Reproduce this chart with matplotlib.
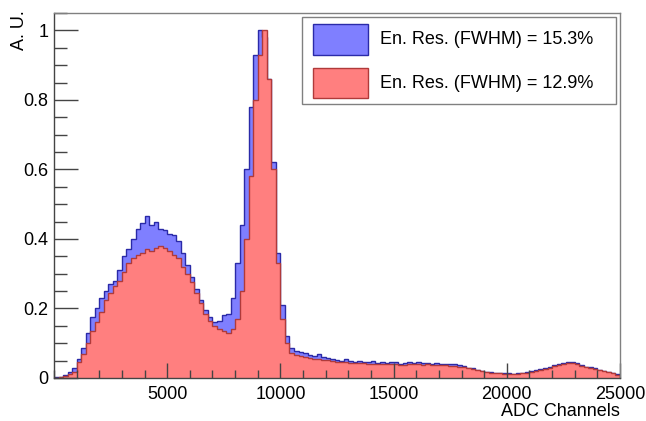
import numpy as np
import matplotlib
matplotlib.use("Agg")
import matplotlib.pyplot as plt
from matplotlib.patches import Rectangle
from matplotlib.ticker import MultipleLocator, FixedLocator

plt.rcParams['font.family'] = ['Liberation Sans', 'DejaVu Sans']

# ---- data -----------------------------------------------------------
bin_width = 200
x_min, x_max = 0, 25000
bin_edges = np.arange(x_min, x_max + bin_width, bin_width)

blue_values = [
    0.002, 0.004, 0.010, 0.018, 0.028, 0.055, 0.085, 0.130, 0.175, 0.200,
    0.230, 0.250, 0.270, 0.280, 0.310, 0.350, 0.370, 0.400, 0.430, 0.445,
    0.465, 0.440, 0.450, 0.430, 0.425, 0.415, 0.410, 0.395, 0.360, 0.325,
    0.290, 0.255, 0.225, 0.195, 0.175, 0.160, 0.165, 0.180, 0.185, 0.230,
    0.330, 0.440, 0.600, 0.780, 0.930, 1.000, 0.980, 0.860, 0.620, 0.360,
    0.210, 0.120, 0.085, 0.078, 0.075, 0.072, 0.066, 0.064, 0.068, 0.060,
    0.058, 0.055, 0.053, 0.050, 0.054, 0.049, 0.047, 0.050, 0.046, 0.045,
    0.048, 0.044, 0.046, 0.043, 0.045, 0.047, 0.040, 0.044, 0.046, 0.043,
    0.045, 0.042, 0.044, 0.041, 0.043, 0.040, 0.041, 0.039, 0.040, 0.036,
    0.034, 0.030, 0.028, 0.024, 0.020, 0.018, 0.016, 0.015, 0.014, 0.013,
    0.014, 0.012, 0.013, 0.015, 0.017, 0.020, 0.023, 0.026, 0.030, 0.033,
    0.037, 0.040, 0.044, 0.046, 0.045, 0.042, 0.037, 0.033, 0.031, 0.028,
    0.024, 0.021, 0.017, 0.014, 0.011,
]

red_values = [
    0.001, 0.003, 0.006, 0.012, 0.016, 0.045, 0.070, 0.100, 0.135, 0.160,
    0.190, 0.225, 0.245, 0.265, 0.280, 0.305, 0.330, 0.345, 0.355, 0.360,
    0.370, 0.365, 0.375, 0.380, 0.375, 0.365, 0.355, 0.345, 0.320, 0.300,
    0.275, 0.245, 0.215, 0.185, 0.165, 0.150, 0.140, 0.135, 0.130, 0.140,
    0.170, 0.250, 0.400, 0.580, 0.800, 0.930, 1.000, 0.860, 0.600, 0.330,
    0.170, 0.100, 0.072, 0.066, 0.063, 0.060, 0.057, 0.055, 0.054, 0.052,
    0.051, 0.049, 0.047, 0.046, 0.045, 0.044, 0.043, 0.043, 0.042, 0.041,
    0.041, 0.040, 0.040, 0.039, 0.039, 0.040, 0.036, 0.038, 0.040, 0.039,
    0.039, 0.038, 0.039, 0.037, 0.038, 0.036, 0.036, 0.035, 0.035, 0.032,
    0.031, 0.028, 0.026, 0.022, 0.019, 0.017, 0.015, 0.014, 0.013, 0.012,
    0.012, 0.011, 0.012, 0.013, 0.015, 0.018, 0.021, 0.024, 0.027, 0.030,
    0.034, 0.037, 0.040, 0.042, 0.042, 0.040, 0.034, 0.031, 0.029, 0.026,
    0.022, 0.019, 0.016, 0.013, 0.010,
]

legend_labels = ["En. Res. (FWHM) = 15.3%", "En. Res. (FWHM) = 12.9%"]
x_label = "ADC Channels"
y_label = "A. U."
x_major_ticks = [5000, 10000, 15000, 20000, 25000]
y_major_ticks = [0, 0.2, 0.4, 0.6, 0.8, 1.0]
y_tick_labels = ["0", "0.2", "0.4", "0.6", "0.8", "1"]

# ---- style ----------------------------------------------------------
W, H = 646, 421
blue_face, blue_edge = "#7f7fff", "#2a2aa8"
red_face, red_edge = "#ff7f7f", "#b03a3a"
frame_col = "#808080"
tick_col = "#444444"
fs = 13

fig = plt.figure(figsize=(W / 100, H / 100), dpi=100)

def fx(px):
    return px / W

def fy(py):
    return 1 - py / H

ax = fig.add_axes([fx(54), fy(378), fx(620) - fx(54), fy(13) - fy(378)])

ax.stairs(blue_values, bin_edges, fill=True, facecolor=blue_face, edgecolor="none")
ax.stairs(blue_values, bin_edges, fill=False, edgecolor=blue_edge, linewidth=1.0)
ax.stairs(red_values, bin_edges, fill=True, facecolor=red_face, edgecolor="none")
ax.stairs(red_values, bin_edges, fill=False, edgecolor=red_edge, linewidth=1.0)

ax.set_xlim(x_min, x_max)
ax.set_ylim(0, 1.05)

ax.xaxis.set_major_locator(FixedLocator(x_major_ticks))
ax.xaxis.set_minor_locator(MultipleLocator(1000))
ax.yaxis.set_major_locator(FixedLocator(y_major_ticks))
ax.yaxis.set_minor_locator(MultipleLocator(0.05))
ax.set_yticklabels(y_tick_labels)
ax.set_xticklabels([f"{t:d}" for t in x_major_ticks])

ax.tick_params(axis="y", which="major", direction="in", length=17.5, width=1,
               color=tick_col, labelsize=fs, pad=4, right=False)
ax.tick_params(axis="y", which="minor", direction="in", length=9, width=1,
               color=tick_col, right=False)
ax.tick_params(axis="x", which="major", direction="in", length=11, width=1,
               color=tick_col, labelsize=fs, pad=6, top=False)
ax.tick_params(axis="x", which="minor", direction="in", length=5.5, width=1,
               color=tick_col, top=False)

for name, sp in ax.spines.items():
    sp.set_linewidth(1.0)
    sp.set_color(tick_col if name in ("left", "bottom") else frame_col)

# axis titles (ROOT style: at the end of the axes)
fig.text(fx(620), fy(411), x_label, ha="right", va="center", fontsize=fs)
fig.text(fx(19), fy(10), y_label, ha="center", va="top", rotation=90, fontsize=fs)

# legend box
fig.patches.append(Rectangle((fx(302), fy(104)), fx(616) - fx(302), fy(17) - fy(104),
                             transform=fig.transFigure, facecolor="white",
                             edgecolor=frame_col, linewidth=1.0, zorder=5))
swatches = [(24, 55, blue_face, blue_edge), (68, 98, red_face, red_edge)]
for (top, bot, fc, ec), lab in zip(swatches, legend_labels):
    fig.patches.append(Rectangle((fx(313), fy(bot)), fx(368) - fx(313), fy(top) - fy(bot),
                                 transform=fig.transFigure, facecolor=fc,
                                 edgecolor=ec, linewidth=1.0, zorder=6))
    fig.text(fx(380), fy((top + bot) / 2), lab, ha="left", va="center",
             fontsize=fs, zorder=7)

fig.savefig("out.png", dpi=100)
